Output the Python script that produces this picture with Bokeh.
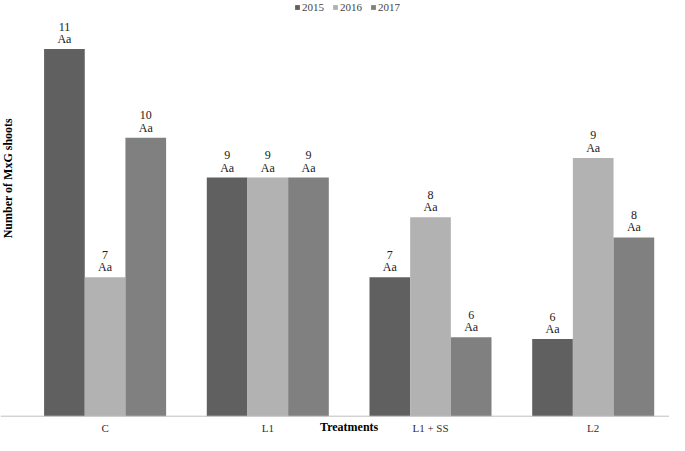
import numpy as np
from bokeh.plotting import figure
from bokeh.models import ColumnDataSource, Legend, LegendItem, Label, Range1d, Span
from bokeh.core.properties import value
from bokeh.embed import file_html
from bokeh.resources import INLINE

# ---- data ----
categories = ["C", "L1", "L1 + SS", "L2"]
years = ["2015", "2016", "2017"]
v2015 = [11.0, 8.90, 7.27, 6.26]
v2016 = [7.27, 8.90, 8.25, 9.22]
v2017 = [9.55, 8.90, 6.29, 7.92]
lab2015 = ["11", "9", "7", "6"]
lab2016 = ["7", "9", "8", "9"]
lab2017 = ["10", "9", "6", "8"]
letters2015 = ["Aa", "Aa", "Aa", "Aa"]
letters2016 = ["Aa", "Aa", "Aa", "Aa"]
letters2017 = ["Aa", "Aa", "Aa", "Aa"]
AXIS_MIN = 5.0

colors = ["#606060", "#b2b2b2", "#808080"]
FONT = "Liberation Serif"

W, H = 669, 435
PX_X = 162.7      # pixels per category
PX_Y = 61.2       # pixels per unit
X0 = -104.6 / PX_X
X1 = X0 + W / PX_X
BASE_PX = 415.7   # baseline distance from the top
Y1 = AXIS_MIN + BASE_PX / PX_Y
Y0 = AXIS_MIN - (H - BASE_PX) / PX_Y

p = figure(width=W, height=H, output_backend="svg", toolbar_location=None,
           x_range=Range1d(X0, X1), y_range=Range1d(Y0, Y1),
           x_axis_location=None, y_axis_location=None,
           min_border=0)
p.outline_line_color = None
p.xgrid.visible = False
p.ygrid.visible = False

idx = np.arange(len(categories))
offsets = [-0.25, 0.0, 0.25]
series = [v2015, v2016, v2017]
labels = [lab2015, lab2016, lab2017]
letters = [letters2015, letters2016, letters2017]

items = []
for yr, vals, labs, lets, off, col in zip(years, series, labels, letters, offsets, colors):
    src = ColumnDataSource(dict(x=idx + off, top=vals, lab=labs, let=lets))
    r = p.vbar(x="x", top="top", bottom=AXIS_MIN, width=0.25, source=src,
               fill_color=col, line_color=None)
    p.text(x="x", y="top", text="let", source=src, text_align="center",
           text_baseline="middle", y_offset=-10, text_font=value(FONT),
           text_font_size="12px", text_color="#1a1a1a")
    p.text(x="x", y="top", text="lab", source=src, text_align="center",
           text_baseline="middle", y_offset=-22.5, text_font=value(FONT),
           text_font_size="12px", text_color="#1a1a1a")
    items.append(LegendItem(label=yr, renderers=[r]))

# baseline (category axis line)
p.add_layout(Span(location=AXIS_MIN, dimension="width", line_color="#bfbfbf", line_width=1))

# category labels
cat_src = ColumnDataSource(dict(x=idx, y=[AXIS_MIN] * len(categories), t=categories))
p.text(x="x", y="y", text="t", source=cat_src, text_align="center",
       text_baseline="middle", y_offset=12, text_font=value(FONT),
       text_font_size="11px", text_color="#303030")

legend = Legend(items=items, location=(294, H - 13), orientation="horizontal",
                glyph_width=6, glyph_height=6, label_standoff=2, spacing=8,
                padding=0, margin=0, label_height=9,
                label_text_font=FONT, label_text_font_size="11px",
                border_line_color=None, background_fill_alpha=0)
p.add_layout(legend)

p.add_layout(Label(x=1.5, y=AXIS_MIN - 10.5 / PX_Y, text="Treatments",
                   text_align="center", text_baseline="middle",
                   text_font=FONT, text_font_size="12px", text_font_style="bold",
                   text_color="black"))
p.add_layout(Label(x=X0 + 7 / PX_X, y=AXIS_MIN + 238 / PX_Y,
                   text="Number of MxG shoots", angle=np.pi / 2,
                   text_align="center", text_baseline="middle",
                   text_font=FONT, text_font_size="12px", text_font_style="bold",
                   text_color="black"))

open("out.html", "w").write(file_html(p, INLINE))
